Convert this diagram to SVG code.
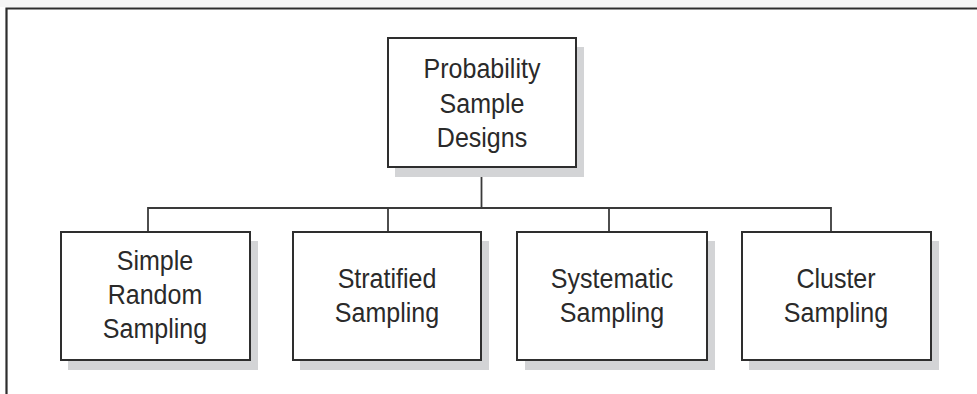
<svg xmlns="http://www.w3.org/2000/svg" width="977" height="394" viewBox="0 0 977 394">
<style>
.shadow{fill:#d3d4d6;stroke:none}
.box{fill:#fff;stroke:#2e2e2e;stroke-width:2}
.line{stroke:#3a3a3a;stroke-width:1.8;fill:none}
.frame{stroke:#2e2e2e;stroke-width:2.2;fill:none}
text{font-family:"Liberation Sans",Arial,sans-serif;font-size:27.5px;fill:#2a2a2a;text-anchor:middle}
</style>
<rect x="0" y="0" width="977" height="394" fill="#fff"/>
<rect x="0" y="0" width="977" height="7" fill="#f6f6f6"/>
<path class="frame" d="M6.5 394 V8.5 H977"/>
<g id="connectors">
<path class="line" d="M481.5 167 V208"/>
<path class="line" d="M148 208 H831"/>
<path class="line" d="M148 207 V231"/>
<path class="line" d="M388 207 V231"/>
<path class="line" d="M609 207 V231"/>
<path class="line" d="M831 207 V231"/>
</g>
<g id="probability">
<rect class="shadow" x="395" y="47" width="189" height="130"/>
<rect class="box" x="388" y="38" width="188" height="129"/>
<g transform="translate(482 0) scale(0.91 1)">
<text x="0" y="78">Probability</text>
<text x="0" y="113">Sample</text>
<text x="0" y="147">Designs</text>
</g>
</g>
<g id="simple">
<rect class="shadow" x="68" y="241" width="190" height="129"/>
<rect class="box" x="61" y="232" width="189" height="128"/>
<g transform="translate(155 0) scale(0.91 1)">
<text x="0" y="270">Simple</text>
<text x="0" y="304">Random</text>
<text x="0" y="338">Sampling</text>
</g>
</g>
<g id="stratified">
<rect class="shadow" x="300" y="241" width="189" height="129"/>
<rect class="box" x="293" y="232" width="188" height="128"/>
<g transform="translate(387 0) scale(0.91 1)">
<text x="0" y="288">Stratified</text>
<text x="0" y="322">Sampling</text>
</g>
</g>
<g id="systematic">
<rect class="shadow" x="525" y="241" width="190" height="129"/>
<rect class="box" x="517" y="232" width="190" height="128"/>
<g transform="translate(612 0) scale(0.91 1)">
<text x="0" y="288">Systematic</text>
<text x="0" y="322">Sampling</text>
</g>
</g>
<g id="cluster">
<rect class="shadow" x="749" y="241" width="190" height="129"/>
<rect class="box" x="742" y="232" width="189" height="128"/>
<g transform="translate(836 0) scale(0.91 1)">
<text x="0" y="288">Cluster</text>
<text x="0" y="322">Sampling</text>
</g>
</g>
</svg>
